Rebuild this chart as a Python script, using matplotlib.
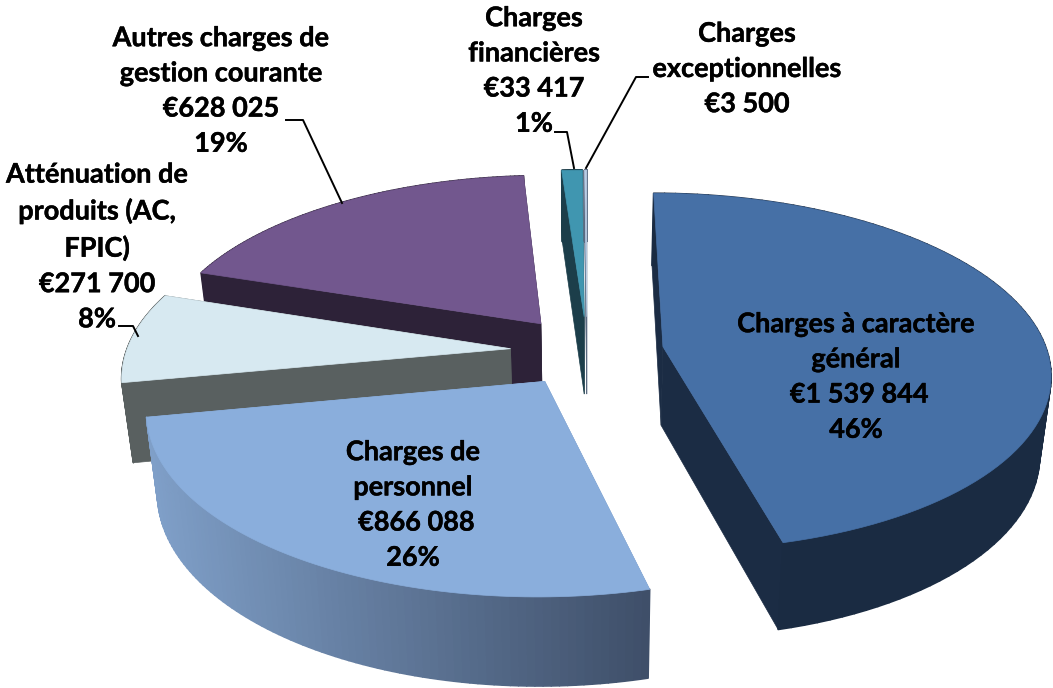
import numpy as np
import matplotlib
matplotlib.use('Agg')
import matplotlib.pyplot as plt
import matplotlib.patheffects as pe
from matplotlib.collections import PolyCollection

names = ['Charges à caractère\ngénéral', 'Charges de\npersonnel', 'Atténuation de\nproduits (AC,\nFPIC)',
         'Autres charges de\ngestion courante', 'Charges\nfinancières', 'Charges\nexceptionnelles']
values = [1539844, 866088, 271700, 628025, 33417, 3500]
show_pct = [True, True, True, True, True, False]
top_colors = ['#4670a6', '#8aaedc', '#d7e9f1', '#72578e', '#4096b0', '#b9cde5']
face_colors = ['#1b2c44', '#7d9bc3', '#596060', '#2d2238', '#1c3e4a', '#5a6a80']
rim_left = ['#1c2e47', '#7f9fc8', '#596060', '#2d2238', '#1c3e4a', '#5a6a80']
rim_right = ['#1a2b42', '#3f4f69', '#596060', '#2d2238', '#1c3e4a', '#5a6a80']
# painter's order, back to front
draw_order = [3, 2, 1, 4, 5, 0]
label_pos = [(856, 377), (413, 505), (97, 247), (221, 91), (534, 71), (747, 69)]
leaders = [None, None,
           [(119, 326), (133, 326), (138, 336)],
           [(286, 120), (303, 120), (342, 203)],
           [(555, 132), (567, 132), (574, 168)],
           [(648, 77), (636, 77), (586, 168)]]

cx, cy = 587, 351
rx, ry = 384, 176
persp = 0.14
explode = 0.2


def project(u, v):
    d = 1 + persp * v
    return cx + rx * u / d, cy - ry * v / d


def lower(x, y):
    # bottom surface: a bit narrower, depth grows towards the viewer
    return cx + (x - cx) * 0.975, y + 64 + 0.042 * y


def mix(c1, c2, t):
    a = np.array(matplotlib.colors.to_rgb(c1))
    b = np.array(matplotlib.colors.to_rgb(c2))
    return tuple(a + (b - a) * t)


def money(v):
    return '€' + f'{v:,}'.replace(',', ' ')


fig = plt.figure(figsize=(10.53, 6.88), dpi=100)
ax = fig.add_axes([0, 0, 1, 1])
ax.set_xlim(0, 1053)
ax.set_ylim(688, 0)
ax.axis('off')

total = sum(values)
edges = np.concatenate([[0], np.cumsum(values)]) / total * 2 * np.pi

z = 1
for i in draw_order:
    a0, a1 = edges[i], edges[i + 1]
    mid = (a0 + a1) / 2
    ou, ov = explode * np.sin(mid), explode * np.cos(mid)
    ang = np.linspace(a0, a1, 90)
    px, py = project(ou + np.sin(ang), ov + np.cos(ang))
    ax_, ay_ = project(ou, ov)
    bx, by = lower(px, py)
    bax, bay = lower(ax_, ay_)

    # cut faces
    for j in (0, -1):
        ax.fill([ax_, px[j], bx[j], bax], [ay_, py[j], by[j], bay],
                color=face_colors[i], lw=0.5, zorder=z)

    # outer rim, shaded along x
    quads, cols = [], []
    for k in range(len(px) - 1):
        quads.append([(px[k], py[k]), (px[k + 1], py[k + 1]), (bx[k + 1], by[k + 1]), (bx[k], by[k])])
        cols.append(mix(rim_left[i], rim_right[i], np.clip((px[k] - 150) / 500, 0, 1)))
    pc = PolyCollection(quads, facecolors=cols, edgecolors=cols, linewidths=1.2, zorder=z + 1)
    ax.add_collection(pc)

    ax.fill(np.r_[ax_, px], np.r_[ay_, py], color=top_colors[i], lw=0.5, zorder=z + 2)
    z += 3

for i in range(len(values)):
    pad = ' ' if i < 2 else ''
    txt = names[i] + '\n' + pad + money(values[i])
    if show_pct[i]:
        txt += '\n' + f'{values[i] / total * 100:.0f}%'
    ax.text(label_pos[i][0], label_pos[i][1], txt, ha='center', va='center', ma='center',
            family='Lato', weight='bold', fontsize=19.5, linespacing=1.56, color='black', zorder=500,
            path_effects=[pe.withStroke(linewidth=0.3, foreground='black')])
    if leaders[i]:
        xs, ys = zip(*leaders[i])
        ax.plot(xs, ys, color='black', lw=1.4, zorder=400)

fig.savefig('out.png', dpi=100)
